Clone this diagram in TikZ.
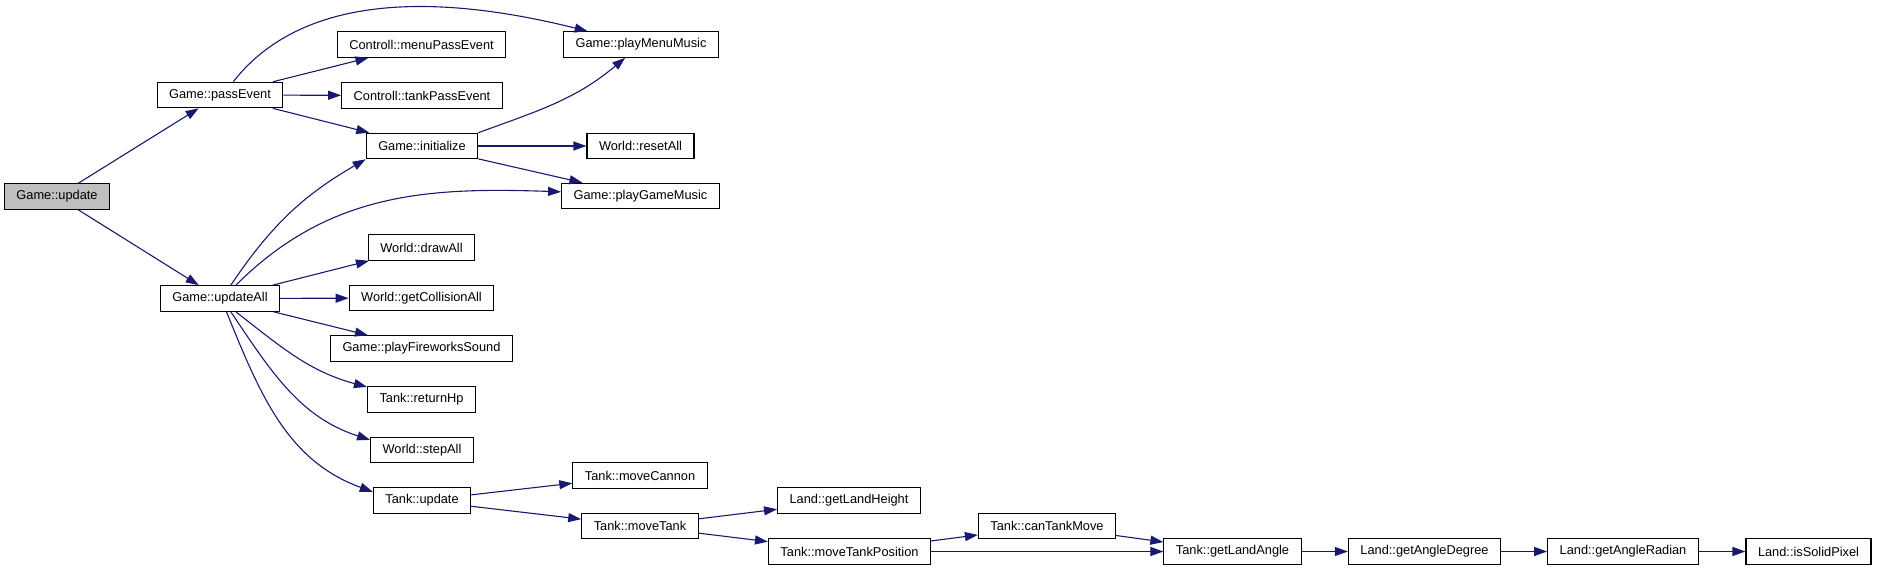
\documentclass[tikz,border=0pt]{standalone}
\usepackage{fontspec}
\setmainfont{Liberation Sans}
\usepackage{tikz}
\usepackage{xcolor}
\usetikzlibrary{arrows.meta}
\definecolor{Edge_Blue}{HTML}{191970}
\definecolor{Root_Gray}{HTML}{BFBFBF}

\begin{document}
\begin{tikzpicture}[
    x=1pt, y=1pt,
    fn/.style={draw=black, fill=white, line width=1.1pt, minimum height=25.5pt, inner xsep=12pt, inner ysep=0pt, font=\fontsize{12.8}{15}\selectfont, anchor=center},
    call/.style={-{Triangle[length=13pt, width=9pt]}, line width=1.1pt, Edge_Blue}
]
\useasboundingbox (0,0) rectangle (1877,-570);

\node[fn, fill=Root_Gray] (update) at (57, -196.5) {Game::update};
\node[fn] (passEvent) at (220, -95) {Game::passEvent};
\node[fn] (updateAll) at (220, -298.5) {Game::updateAll};
\node[fn] (menuPass) at (421.5, -44.5) {Controll::menuPassEvent};
\node[fn] (tankPass) at (422, -95.5) {Controll::tankPassEvent};
\node[fn] (initialize) at (422, -146) {Game::initialize};
\node[fn] (drawAll) at (421.5, -247.5) {World::drawAll};
\node[fn] (getCollision) at (421.5, -298) {World::getCollisionAll};
\node[fn] (fireworks) at (421.5, -348.5) {Game::playFireworksSound};
\node[fn] (returnHp) at (421.5, -399.5) {Tank::returnHp};
\node[fn] (stepAll) at (422, -450) {World::stepAll};
\node[fn] (tankUpdate) at (422, -500.5) {Tank::update};
\node[fn] (menuMusic) at (641, -44.5) {Game::playMenuMusic};
\node[fn] (resetAll) at (640.5, -146) {World::resetAll};
\node[fn] (gameMusic) at (640.5, -196) {Game::playGameMusic};
\node[fn] (moveCannon) at (640, -475.5) {Tank::moveCannon};
\node[fn] (moveTank) at (640, -526) {Tank::moveTank};
\node[fn] (landHeight) at (849, -500.5) {Land::getLandHeight};
\node[fn] (movePos) at (849.5, -551.5) {Tank::moveTankPosition};
\node[fn] (canMove) at (1047, -526) {Tank::canTankMove};
\node[fn] (landAngle) at (1232.5, -551.5) {Tank::getLandAngle};
\node[fn] (angleDeg) at (1424.5, -551.5) {Land::getAngleDegree};
\node[fn] (angleRad) at (1623, -551.5) {Land::getAngleRadian};
\node[fn] (solidPixel) at (1808.5, -551.5) {Land::isSolidPixel};

% Game::update
\draw[call] (update) -- (passEvent);
\draw[call] (update) -- (updateAll);

% Game::passEvent
\draw[call] (passEvent.45) to[out=52, in=166, looseness=0.9] (menuMusic);
\draw[call] (passEvent) -- (menuPass);
\draw[call] (passEvent) -- (tankPass);
\draw[call] (passEvent) -- (initialize);

% Game::initialize
\draw[call] (initialize.north east) to[out=20, in=220] (menuMusic);
\draw[call] (initialize) -- (resetAll);
\draw[call] (initialize) -- (gameMusic);

% Game::updateAll
\draw[call] (updateAll.51) to[out=56, in=210] (initialize.south west);
\draw[call] (updateAll.40) to[out=45, in=178] (gameMusic.177);
\draw[call] (updateAll) -- (drawAll);
\draw[call] (updateAll) -- (getCollision);
\draw[call] (updateAll) -- (fireworks);
\draw[call] (updateAll.320) to[out=-38, in=165] (returnHp.167);
\draw[call] (updateAll.309) to[out=-56, in=162] (stepAll.169);
\draw[call] (updateAll.296) to[out=-68, in=160] (tankUpdate.170);

% Tank::update and below
\draw[call] (tankUpdate) -- (moveCannon);
\draw[call] (tankUpdate) -- (moveTank);
\draw[call] (moveTank) -- (landHeight);
\draw[call] (moveTank) -- (movePos);
\draw[call] (movePos) -- (canMove);
\draw[call] (movePos) -- (landAngle);
\draw[call] (canMove) -- (landAngle);
\draw[call] (landAngle) -- (angleDeg);
\draw[call] (angleDeg) -- (angleRad);
\draw[call] (angleRad) -- (solidPixel);
\end{tikzpicture}
\end{document}
